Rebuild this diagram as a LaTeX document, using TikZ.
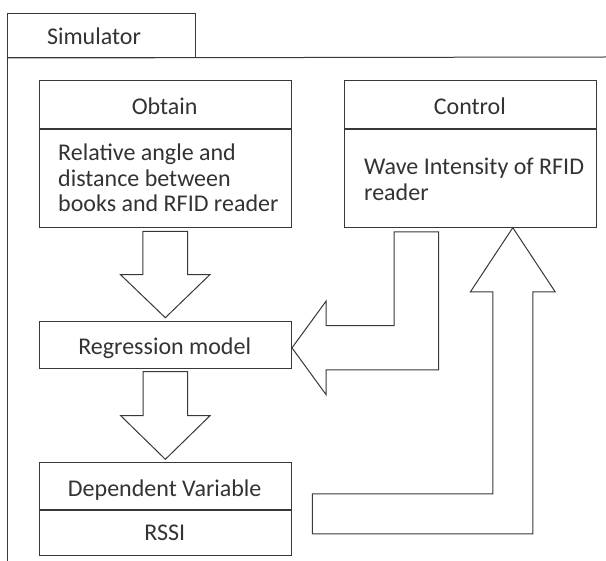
\documentclass[tikz,border=0pt]{standalone}
\usepackage{fontspec}
\setmainfont{Carlito}
\usetikzlibrary{calc}

\begin{document}
\begin{tikzpicture}[x=1pt, y=-1pt,
  line/.style={draw=black!78, line width=1pt},
  box/.style={line, rectangle, inner sep=0pt, anchor=north west},
  lbl/.style={font=\fontsize{24}{25.5}\selectfont, text=black!80, inner sep=0pt},
  blockarrow/.style={line, fill=white, line join=miter}
]
% canvas
\fill[white] (0,0) rectangle (606,561);
\useasboundingbox (0,0) rectangle (606,561);

% simulator frame with its tab
\node[box, minimum width=188pt, minimum height=43.5pt] (tab) at (7,13.5) {};
\node[lbl, anchor=base] (simtext) at (94,44.3) {Simulator};
\coordinate (frameBottom) at (7,561);
\coordinate (frameRight) at (606,57);
\draw[line] (tab.south west) -- (frameBottom);
\draw[line] (tab.south west) -- (frameRight);

% Obtain block
\node[box, minimum width=252pt, minimum height=47.4pt] (obtainH) at (38.7,80.3) {};
\node[box, minimum width=252pt, minimum height=98pt] (obtainB) at (obtainH.south west) {};
\node[lbl, anchor=base] (obtainT) at (164.7,115) {Obtain};
\node[lbl, anchor=base west, align=left] (obtainTxt) at (58,211.7)
  {Relative angle and\\distance between\\books and RFID reader};

% Control block
\node[box, minimum width=251.7pt, minimum height=47.4pt] (controlH) at (344,80.3) {};
\node[box, minimum width=251.7pt, minimum height=98pt] (controlB) at (controlH.south west) {};
\node[lbl, anchor=base] (controlT) at (469.85,115) {Control};
\node[lbl, anchor=base west, align=left] (controlTxt) at (364,200.5)
  {Wave Intensity of RFID\\reader};

% Regression model
\node[box, minimum width=252.3pt, minimum height=47.3pt] (reg) at (38.7,320.7) {};
\node[lbl, anchor=base] (regT) at (164.7,354.3) {Regression model};

% Dependent variable block
\node[box, minimum width=252.3pt, minimum height=47pt] (depH) at (38.7,462.3) {};
\node[box, minimum width=252.3pt, minimum height=44.7pt] (depB) at (depH.south west) {};
\node[lbl, anchor=base] (depT) at (164.7,496.7) {Dependent Variable};
\node[lbl, anchor=base] (rssiT) at (164.7,541) {RSSI};

% Obtain -> Regression model
\coordinate (a1) at ($(obtainB.south)+(0,3.6)$);
\coordinate (a1tip) at ($(reg.north)+(0,-3)$);
\draw[blockarrow] ($(a1)+(-22.35,0)$) -- ($(a1)+(22.35,0)$) -- ($(a1)+(22.35,43.4)$)
  -- ($(a1)+(44.65,43.4)$) -- (a1tip) -- ($(a1)+(-44.65,43.4)$)
  -- ($(a1)+(-22.35,43.4)$) -- cycle;

% Regression model -> Dependent variable
\coordinate (a2) at ($(reg.south)+(0,2.7)$);
\coordinate (a2tip) at ($(depH.north)+(0,-3)$);
\draw[blockarrow] ($(a2)+(-22.35,0)$) -- ($(a2)+(22.35,0)$) -- ($(a2)+(22.35,44)$)
  -- ($(a2)+(44.65,44)$) -- (a2tip) -- ($(a2)+(-44.65,44)$)
  -- ($(a2)+(-22.35,44)$) -- cycle;

% Control -> Regression model (bent arrow)
\coordinate (lS) at ($(controlB.south)+(-76.15,4.3)$);
\coordinate (lT) at ($(reg.east)+(0,3)$);
\draw[blockarrow] ($(lT)+(34,-22.3)$) -| (lS) -- ++(44.3,0) |- ($(lT)+(34,22)$)
  -- ($(lT)+(34,46.7)$) -- (lT) -- ($(lT)+(34,-46.6)$) -- cycle;

% Dependent variable -> Control (feedback arrow)
\coordinate (fb) at (312.3,514);
\coordinate (fU) at ($(controlB.south)+(42.45,0)$);
\draw[blockarrow] ($(fb)+(0,-20)$) -| ($(fU)+(-20,64.3)$) -- ($(fU)+(-42.5,64.3)$)
  -- (fU) -- ($(fU)+(42.5,64.3)$) -- ($(fU)+(20,64.3)$) |- ($(fb)+(0,20)$) -- cycle;
\end{tikzpicture}
\end{document}
